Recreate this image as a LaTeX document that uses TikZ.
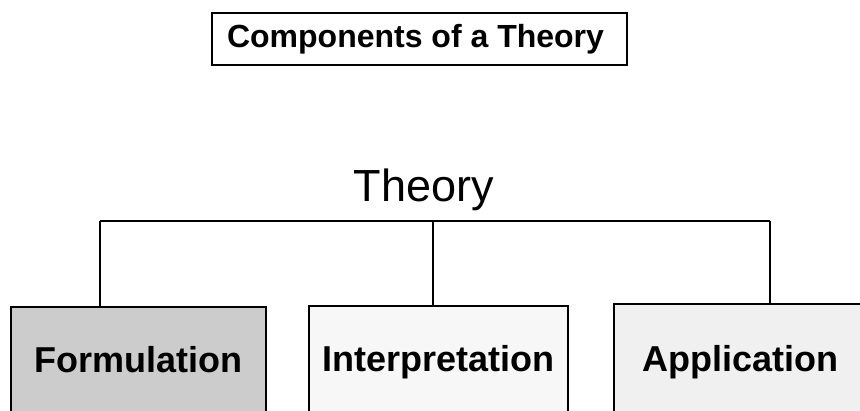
\documentclass[tikz,border=0pt]{standalone}
\usepackage{fontspec}
\setmainfont{Liberation Sans}
\begin{document}
\begin{tikzpicture}[x=1pt,y=-1pt,
  conn/.style={line width=1.3pt},
  compbox/.style={draw=none, anchor=north west, inner sep=0pt,
    font=\fontsize{36}{36}\selectfont\bfseries, text height=26pt, text depth=0pt},
  boxedge/.style={line width=2pt},
  titlebox/.style={draw, line width=1.3pt, minimum width=415pt, minimum height=52pt,
    inner sep=0pt, font=\fontsize{32}{32}\selectfont\bfseries, text height=23pt},
  headtext/.style={anchor=base, inner sep=0pt, font=\fontsize{45}{45}\selectfont}
]
\useasboundingbox (0,0) rectangle (860,411);
\clip (0,0) rectangle (860,411);

% title
\node[titlebox] (title) at (419.5,39) {\hspace*{-8pt}Components of a Theory};

% head
\node[headtext] (theory) at (424,202) {Theory};

% component boxes
\node[compbox, fill=black!20, minimum width=255pt, minimum height=104pt] (f) at (11,307) {Formulation};
\node[compbox, fill=black!3, minimum width=259pt, minimum height=105pt] (i) at (309,306) {Interpretation};
\node[compbox, fill=black!6, minimum width=252pt, minimum height=108pt] (a) at (614,304) {Application};

\draw[boxedge] (f.south west) -- (f.north west) -- (f.north east) -- (f.south east);
\draw[boxedge] (i.south west) -- (i.north west) -- (i.north east) -- (i.south east);
\draw[boxedge] (a.south west) -- (a.north west) -- (a.north east) -- (a.south east);

% connectors
\coordinate (bl) at (100,221);
\coordinate (bm) at (433,221);
\coordinate (br) at (770,221);
\draw[conn] (bl) -- (br);
\draw[conn] (bl) -- (bl |- f.north);
\draw[conn] (bm) -- (bm |- i.north);
\draw[conn] (br) -- (br |- a.north);
\end{tikzpicture}
\end{document}
